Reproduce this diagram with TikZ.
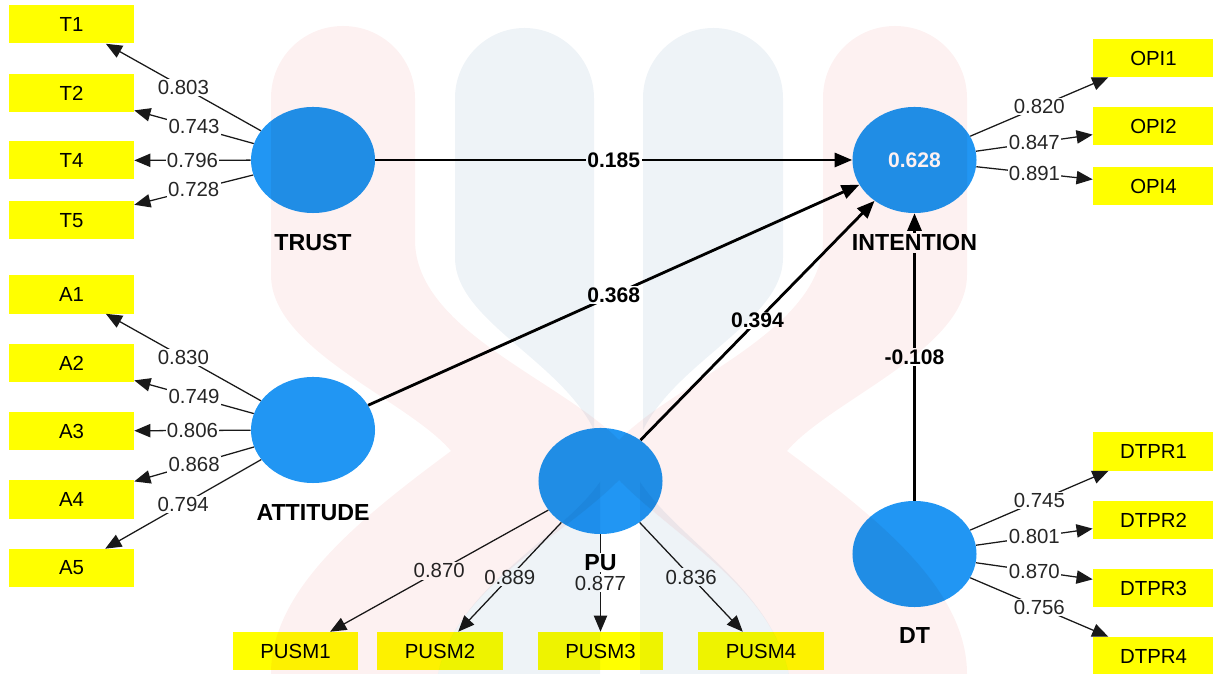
\documentclass[tikz,border=0pt]{standalone}
\usepackage{fontspec}
\setmainfont{Liberation Sans}
\usetikzlibrary{arrows.meta,shapes.geometric,calc}

\definecolor{latblue}{RGB}{33,150,243}
\definecolor{indyellow}{RGB}{255,255,0}
\definecolor{wmpink}{RGB}{253,241,241}
\definecolor{wmblue}{RGB}{238,243,247}

\begin{document}
\begin{tikzpicture}[x=0.025cm, y=-0.025cm, line join=round,
    font=\fontsize{14.5}{16}\selectfont,
    ind/.style={fill=indyellow, minimum width=3.125cm, minimum height=0.95cm, inner sep=0pt},
    indr/.style={ind, minimum width=3.025cm},
    lat/.style={ellipse, fill=latblue, minimum width=3.1cm, minimum height=2.65cm, inner sep=0pt,
      text=white, font=\fontsize{15}{17}\selectfont\bfseries},
    latname/.style={fill=white, inner sep=1pt, font=\fontsize{16.5}{18}\selectfont\bfseries},
    load/.style={-{Triangle[length=11.5pt,width=9.5pt]}, line width=0.9pt, black!90},
    loadval/.style={pos=0.5, fill=white, inner sep=1pt, text=black!85},
    pathc/.style={-{Triangle[length=12.5pt,width=10pt]}, line width=2pt},
    pathval/.style={pos=0.5, fill=white, inner sep=1pt, font=\fontsize{15}{17}\selectfont\bfseries}]
  \useasboundingbox (0,0) rectangle (1213,674);

  % indicators
  \node[ind] (T1) at (71.5,24.5) {T1};
  \node[ind] (T2) at (71.5,93) {T2};
  \node[ind] (T4) at (71.5,160.5) {T4};
  \node[ind] (T5) at (71.5,220.5) {T5};
  \node[ind] (A1) at (71.5,294.5) {A1};
  \node[ind] (A2) at (71.5,363) {A2};
  \node[ind] (A3) at (71.5,431) {A3};
  \node[ind] (A4) at (71.5,499.5) {A4};
  \node[ind] (A5) at (71.5,568) {A5};
  \node[indr] (OPI1) at (1153.5,58) {OPI1};
  \node[indr] (OPI2) at (1153.5,126) {OPI2};
  \node[indr] (OPI4) at (1153.5,186) {OPI4};
  \node[indr] (DTPR1) at (1153.5,451.5) {DTPR1};
  \node[indr] (DTPR2) at (1153.5,520) {DTPR2};
  \node[indr] (DTPR3) at (1153.5,588) {DTPR3};
  \node[indr] (DTPR4) at (1153.5,656) {DTPR4};
  \node[ind] (PUSM1) at (295.5,651) {PUSM1};
  \node[ind] (PUSM2) at (440,651) {PUSM2};
  \node[ind] (PUSM3) at (600.5,651) {PUSM3};
  \node[ind] (PUSM4) at (761,651) {PUSM4};

  % constructs
  \node[lat] (TRUST) at (313,160) {};
  \node[lat] (ATTITUDE) at (313,430) {};
  \node[lat] (INTENTION) at (914.5,160) {0.628};
  \node[lat] (PU) at (600.5,481) {};
  \node[lat] (DT) at (914.5,554) {};

  % outer loadings
  \draw[load] (TRUST) -- (T1) node[loadval]{0.803};
  \draw[load] (TRUST) -- (T2) node[loadval]{0.743};
  \draw[load] (TRUST) -- (T4) node[loadval]{0.796};
  \draw[load] (TRUST) -- (T5) node[loadval]{0.728};
  \draw[load] (ATTITUDE) -- (A1) node[loadval]{0.830};
  \draw[load] (ATTITUDE) -- (A2) node[loadval]{0.749};
  \draw[load] (ATTITUDE) -- (A3) node[loadval]{0.806};
  \draw[load] (ATTITUDE) -- (A4) node[loadval]{0.868};
  \draw[load] (ATTITUDE) -- (A5) node[loadval]{0.794};
  \draw[load] (INTENTION) -- (OPI1) node[loadval]{0.820};
  \draw[load] (INTENTION) -- (OPI2) node[loadval]{0.847};
  \draw[load] (INTENTION) -- (OPI4) node[loadval]{0.891};
  \draw[load] (DT) -- (DTPR1) node[loadval]{0.745};
  \draw[load] (DT) -- (DTPR2) node[loadval]{0.801};
  \draw[load] (DT) -- (DTPR3) node[loadval]{0.870};
  \draw[load] (DT) -- (DTPR4) node[loadval]{0.756};
  \draw[load] (PU) -- (PUSM1) node[loadval]{0.870};
  \draw[load] (PU) -- (PUSM2) node[loadval]{0.889};
  \draw[load] (PU) -- (PUSM3) node[loadval]{0.877};
  \draw[load] (PU) -- (PUSM4) node[loadval]{0.836};

  % path coefficients
  \draw[pathc] (TRUST) -- (INTENTION) node[pathval]{0.185};
  \draw[pathc] (ATTITUDE) -- (INTENTION) node[pathval]{0.368};
  \draw[pathc] (PU) -- (INTENTION) node[pathval]{0.394};
  \draw[pathc] (DT) -- (INTENTION) node[pathval]{-0.108};

  % construct names
  \node[latname] (TRUSTname) at ($(TRUST)+(0,83)$) {TRUST};
  \node[latname] (ATTITUDEname) at ($(ATTITUDE)+(0,83)$) {ATTITUDE};
  \node[latname] (INTENTIONname) at ($(INTENTION)+(0,83)$) {INTENTION};
  \node[latname] (PUname) at ($(PU)+(0,82)$) {PU};
  \node[latname] (DTname) at ($(DT)+(0,82)$) {DT};

  % faint watermark over everything
  \begin{scope}[blend mode=multiply]
    \fill[wmpink] (271,98) .. controls (271,58) and (303,26) .. (343,26)
      .. controls (383,26) and (415,58) .. (415,98) -- (415,240)
      .. controls (415,330) and (560,380) .. (619,440)
      .. controls (678,380) and (823,330) .. (823,240) -- (823,98)
      .. controls (823,58) and (855,26) .. (895,26)
      .. controls (935,26) and (967,58) .. (967,98) -- (967,275)
      .. controls (967,350) and (830,400) .. (787,451)
      .. controls (880,520) and (967,590) .. (967,674) -- (967,680) -- (790,680)
      .. controls (775,590) and (678,540) .. (619,480)
      .. controls (560,540) and (450,590) .. (437,680) -- (271,680) -- (271,674)
      .. controls (271,590) and (358,520) .. (451,451)
      .. controls (408,400) and (271,350) .. (271,275) -- cycle;
    \fill[wmblue] (455,98) .. controls (455,60) and (486,28) .. (524.5,28)
      .. controls (563,28) and (594,60) .. (594,98) -- (594,430)
      .. controls (560,360) and (455,320) .. (455,258) -- cycle;
    \fill[wmblue] (643,98) .. controls (643,60) and (674,28) .. (713.5,28)
      .. controls (752,28) and (783,60) .. (783,98) -- (783,258)
      .. controls (783,320) and (678,360) .. (643,430) -- cycle;
    \fill[wmblue] (600,482) -- (600,680) -- (437,680)
      .. controls (450,590) and (560,540) .. (600,482) -- cycle;
    \fill[wmblue] (640,482) .. controls (678,540) and (775,590) .. (790,680)
      -- (640,680) -- cycle;
  \end{scope}
\end{tikzpicture}
\end{document}
